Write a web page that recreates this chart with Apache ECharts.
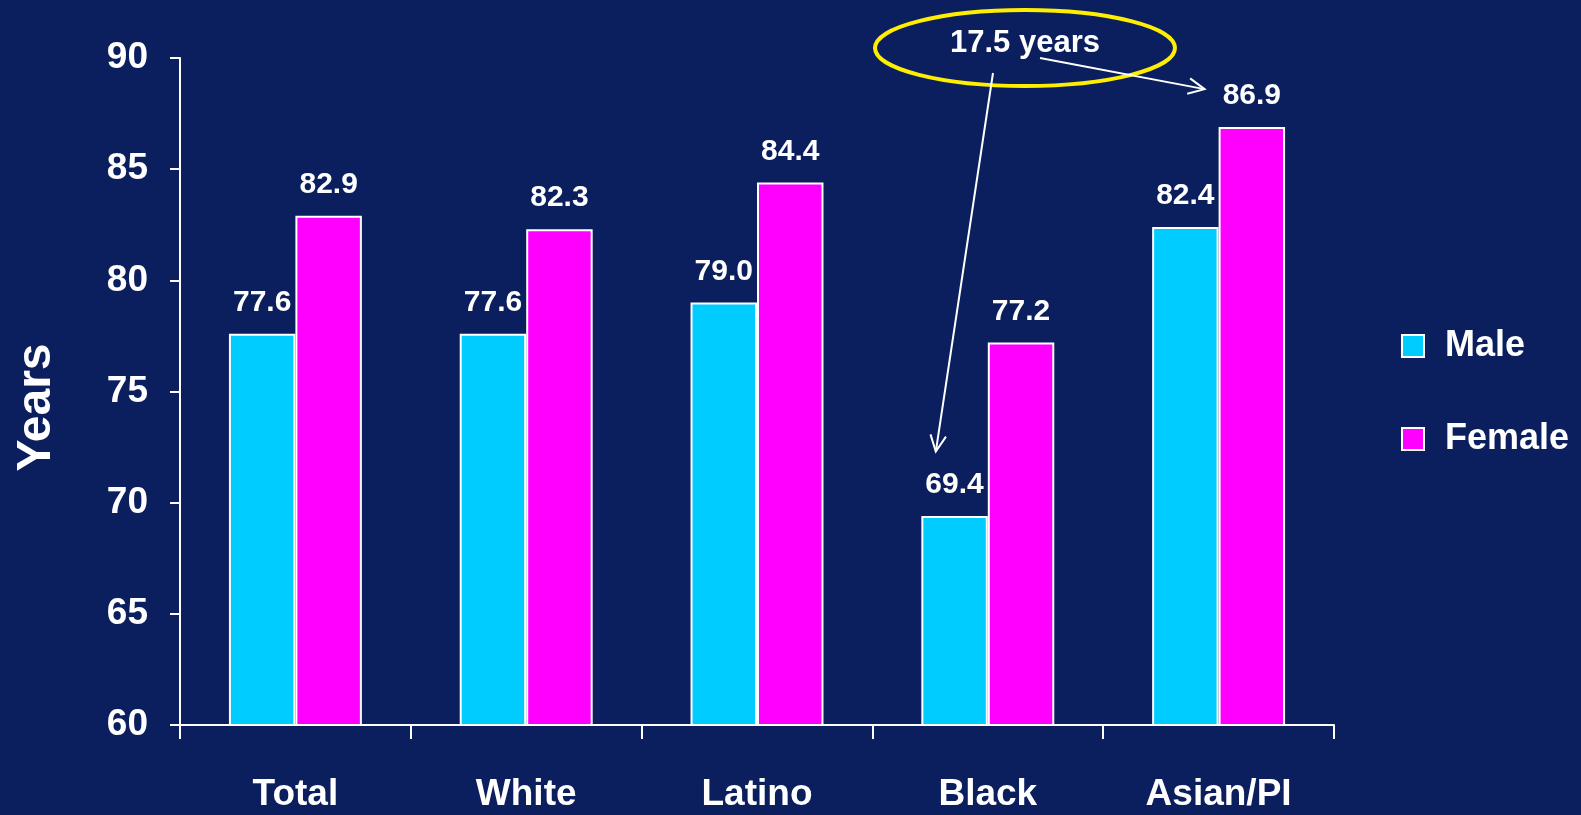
<!DOCTYPE html>
<html>
<head>
<meta charset="utf-8">
<script src="https://cdn.jsdelivr.net/npm/echarts@6/dist/echarts.min.js"></script>
<style>
html,body{margin:0;padding:0;background:#0b1f5f;}
#chart{width:1581px;height:815px;}
</style>
</head>
<body>
<div id="chart"></div>
<script>
const categories = ['Total', 'White', 'Latino', 'Black', 'Asian/PI'];
const maleValues = [77.6, 77.6, 79.0, 69.4, 82.4];
const femaleValues = [82.9, 82.3, 84.4, 77.2, 86.9];
const seriesNames = ['Male', 'Female'];
const gapLabel = '17.5 years';

const FONT = '"Liberation Sans", Arial, sans-serif';
const chart = echarts.init(document.getElementById('chart'));

const labelCfg = {
  show: true,
  position: 'top',
  distance: 16,
  color: '#ffffff',
  fontFamily: FONT,
  fontWeight: 'bold',
  fontSize: 30,
  formatter: p => p.value.toFixed(1)
};

chart.setOption({
  backgroundColor: '#0b1f5f',
  animation: false,
  grid: { left: 180, right: 247, top: 58, bottom: 90, containLabel: false },
  legend: {
    orient: 'vertical',
    left: 1396,
    top: 323,
    itemWidth: 22,
    itemHeight: 22,
    itemGap: 57,
    icon: 'rect',
    textStyle: { color: '#ffffff', fontFamily: FONT, fontWeight: 'bold', fontSize: 36, padding: [0, 0, 0, 16] },
    data: seriesNames
  },
  xAxis: {
    type: 'category',
    data: categories,
    boundaryGap: true,
    axisLine: { lineStyle: { color: '#ffffff', width: 2 } },
    axisTick: { show: true, length: 14, inside: false, lineStyle: { color: '#ffffff', width: 2 } },
    axisLabel: { color: '#ffffff', fontFamily: FONT, fontWeight: 'bold', fontSize: 37, margin: 51 },
    splitLine: { show: false }
  },
  yAxis: {
    type: 'value',
    min: 60, max: 90, interval: 5,
    name: 'Years',
    nameLocation: 'middle',
    nameGap: 119,
    nameTextStyle: { color: '#ffffff', fontFamily: FONT, fontWeight: 'bold', fontSize: 48, padding: [0, 32, 0, 0] },
    axisLine: { show: true, lineStyle: { color: '#ffffff', width: 2 } },
    axisTick: { show: true, length: 10, lineStyle: { color: '#ffffff', width: 2 } },
    axisLabel: { color: '#ffffff', fontFamily: FONT, fontWeight: 'bold', fontSize: 37, margin: 32 },
    splitLine: { show: false }
  },
  series: [
    {
      name: seriesNames[0], type: 'bar', data: maleValues,
      barWidth: '28.8%', barGap: '0%',
      itemStyle: { color: '#00ccff', borderColor: '#ffffff', borderWidth: 2 },
      label: labelCfg
    },
    {
      name: seriesNames[1], type: 'bar', data: femaleValues,
      barWidth: '28.8%', barGap: '0%',
      itemStyle: { color: '#ff00ff', borderColor: '#ffffff', borderWidth: 2 },
      label: labelCfg
    }
  ]
});

// Annotation: ellipse with gap label and two arrows
const tip1 = chart.convertToPixel({ xAxisIndex: 0, yAxisIndex: 0 }, ['Black', 72.3]);
tip1[0] -= 52;
const tip2 = chart.convertToPixel({ xAxisIndex: 0, yAxisIndex: 0 }, ['Asian/PI', 88.6]);
tip2[0] -= 14;
const s1 = [993, 73], s2 = [1040, 58];

function arrowHead(from, to, len, ang) {
  const a = Math.atan2(to[1] - from[1], to[0] - from[0]);
  const p1 = [to[0] - len * Math.cos(a - ang), to[1] - len * Math.sin(a - ang)];
  const p2 = [to[0] - len * Math.cos(a + ang), to[1] - len * Math.sin(a + ang)];
  return [p1, to, p2];
}
const lineStyle = { stroke: '#ffffff', lineWidth: 2, fill: null };

chart.setOption({
  graphic: [
    { type: 'ellipse', shape: { cx: 1025, cy: 48, rx: 150, ry: 38 }, style: { stroke: '#ffee00', lineWidth: 4, fill: null }, z: 10 },
    { type: 'text', x: 1025, y: 43, style: { text: gapLabel, fill: '#ffffff', font: 'bold 31px ' + FONT, textAlign: 'center', textVerticalAlign: 'middle' }, z: 11 },
    { type: 'line', shape: { x1: s1[0], y1: s1[1], x2: tip1[0], y2: tip1[1] }, style: lineStyle, z: 12 },
    { type: 'polyline', shape: { points: arrowHead(s1, tip1, 18, 0.45) }, style: lineStyle, z: 12 },
    { type: 'line', shape: { x1: s2[0], y1: s2[1], x2: tip2[0], y2: tip2[1] }, style: lineStyle, z: 12 },
    { type: 'polyline', shape: { points: arrowHead(s2, tip2, 18, 0.45) }, style: lineStyle, z: 12 }
  ]
});
</script>
</body>
</html>
